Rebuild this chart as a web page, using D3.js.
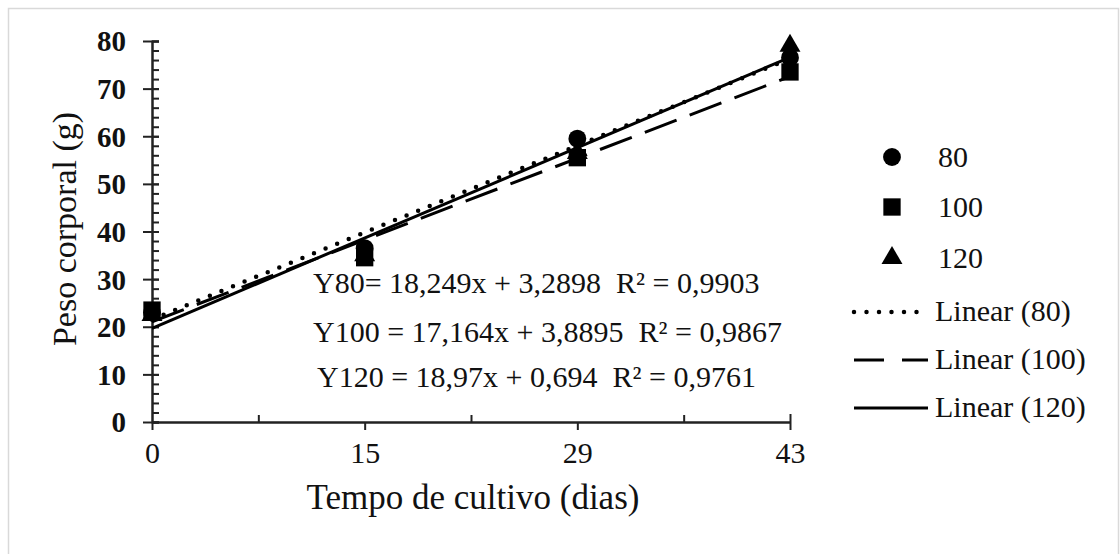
<!DOCTYPE html>
<html>
<head>
<meta charset="utf-8">
<script src="https://cdn.jsdelivr.net/npm/d3@7"></script>
<style>
  body { margin: 0; background: #fff; }
  svg text { font-family: "Liberation Serif", "Times New Roman", serif; fill: #111; white-space: pre; }
</style>
</head>
<body>
<div id="chart"></div>
<script>
// data
const days = ["0", "15", "29", "43"];
const peso80 = [23, 36.5, 59.5, 76.5];
const peso100 = [23.5, 34.5, 55.5, 73.5];
const peso120 = [22.5, 35, 56.5, 79];
const seriesNames = ["80", "100", "120"];
const slopes = [18.249, 17.164, 18.97];
const intercepts = [3.2898, 3.8895, 0.694];
const equations = [
  "Y80= 18,249x + 3,2898  R² = 0,9903",
  "Y100 = 17,164x + 3,8895  R² = 0,9867",
  "Y120 = 18,97x + 0,694  R² = 0,9761"
];
const yTicks = [0, 10, 20, 30, 40, 50, 60, 70, 80];

const drawChart = () => {
  const width = 1120;
  const height = 554;
  const plot = { left: 152, right: 790, top: 41, bottom: 422 };

  const svg = d3.select("#chart")
    .append("svg")
    .attr("width", width)
    .attr("height", height);

  // outer light border
  svg.append("rect")
    .attr("x", 8.5).attr("y", 8.5)
    .attr("width", 1110).attr("height", 570)
    .attr("fill", "none")
    .attr("stroke", "#d9d9d9")
    .attr("stroke-width", 1.5);

  // category index 1..4 (Excel trendline x)
  const x = d3.scaleLinear().domain([1, 4]).range([plot.left, plot.right]);
  const xCat = d3.scalePoint().domain(days).range([plot.left, plot.right]);
  const y = d3.scaleLinear().domain([0, 80]).range([plot.bottom, plot.top]);

  // y axis: minor ticks inside
  svg.append("g")
    .attr("transform", `translate(${plot.left},0)`)
    .call(d3.axisRight(y).tickValues(d3.range(0, 81, 2)).tickSize(7).tickFormat(""))
    .call(g => g.selectAll("path,line").attr("stroke", "#222").attr("stroke-width", 2));

  // y axis: major ticks crossing + labels
  const yAxis = svg.append("g")
    .attr("transform", `translate(${plot.left},0)`)
    .call(d3.axisLeft(y).tickValues(yTicks).tickSize(9).tickPadding(17).tickSizeOuter(0));
  yAxis.selectAll("path,line").attr("stroke", "#222").attr("stroke-width", 2);
  yAxis.selectAll(".tick line").attr("x2", -9).attr("x1", 7);
  yAxis.selectAll("text")
    .attr("font-size", 29).attr("font-weight", "bold")
    .attr("font-family", "Liberation Serif").attr("fill", "#111")
    .attr("dy", "0.34em");

  // x axis: minor ticks pointing up
  svg.append("g")
    .attr("transform", `translate(0,${plot.bottom})`)
    .call(d3.axisTop(x).tickValues([1.5, 2.5, 3.5]).tickSize(7).tickFormat("").tickSizeOuter(0))
    .call(g => g.selectAll("path,line").attr("stroke", "#222").attr("stroke-width", 2));

  const xAxis = svg.append("g")
    .attr("transform", `translate(0,${plot.bottom})`)
    .call(d3.axisBottom(xCat).tickSize(8).tickPadding(12).tickSizeOuter(0));
  xAxis.selectAll("path,line").attr("stroke", "#222").attr("stroke-width", 2);
  xAxis.selectAll(".tick:last-of-type line").attr("y1", -8);
  xAxis.selectAll("text")
    .attr("font-size", 30)
    .attr("font-family", "Liberation Serif").attr("fill", "#111");

  // axis titles
  svg.append("text")
    .attr("x", 473)
    .attr("y", 509)
    .attr("text-anchor", "middle")
    .attr("font-size", 35)
    .text("Tempo de cultivo (dias)");

  svg.append("text")
    .attr("transform", "translate(76,229) rotate(-90)")
    .attr("text-anchor", "middle")
    .attr("font-size", 34)
    .text("Peso corporal (g)");

  // markers
  const circle = d3.symbol().type(d3.symbolCircle).size(250);
  const square = d3.symbol().type(d3.symbolSquare).size(300);
  const triangle = d3.symbol().type(d3.symbolTriangle).size(190);
  const symbols = [circle, square, triangle];
  const allSeries = [peso80, peso100, peso120];

  // drawing order: 120, 80, 100
  [2, 0, 1].forEach(s => {
    svg.append("g")
      .selectAll("path")
      .data(allSeries[s])
      .enter()
      .append("path")
      .attr("d", symbols[s])
      .attr("transform", (d, i) => `translate(${x(i + 1)},${y(d)})`)
      .attr("fill", "#000");
  });

  // trendlines
  const dashes = ["0,12.5", "34,14", null];
  const widths = [4.5, 3, 3];
  const line = d3.line().x(d => x(d[0])).y(d => y(d[1]));
  slopes.forEach((m, s) => {
    const pts = [1, 4].map(v => [v, m * v + intercepts[s]]);
    svg.append("path")
      .attr("d", line(pts))
      .attr("fill", "none")
      .attr("stroke", "#000")
      .attr("stroke-width", widths[s])
      .attr("stroke-linecap", s === 0 ? "round" : "butt")
      .attr("stroke-dasharray", dashes[s]);
  });

  // equations
  const eqX = [313, 313, 317];
  const eqY = [293, 342, 387];
  svg.selectAll(".eq")
    .data(equations)
    .enter()
    .append("text")
    .attr("class", "eq")
    .attr("x", (d, i) => eqX[i])
    .attr("y", (d, i) => eqY[i])
    .attr("font-size", 30)
    .text(d => d);

  // legend
  const legend = svg.append("g");
  const markerRowY = [157, 207, 258];
  seriesNames.forEach((name, s) => {
    legend.append("path")
      .attr("d", symbols[s])
      .attr("transform", `translate(892,${markerRowY[s]})`)
      .attr("fill", "#000");
    legend.append("text")
      .attr("x", 938).attr("y", markerRowY[s] + 10)
      .attr("font-size", 30)
      .text(name);
  });
  const lineRowY = [312, 360, 408];
  seriesNames.forEach((name, s) => {
    legend.append("line")
      .attr("x1", 854).attr("x2", 928)
      .attr("y1", lineRowY[s]).attr("y2", lineRowY[s])
      .attr("stroke", "#000")
      .attr("stroke-width", widths[s])
      .attr("stroke-linecap", s === 0 ? "round" : "butt")
      .attr("stroke-dasharray", s === 1 ? "30,18" : dashes[s]);
    legend.append("text")
      .attr("x", 935).attr("y", lineRowY[s] + 9)
      .attr("font-size", 30)
      .text(`Linear (${name})`);
  });
};

drawChart();
</script>
</body>
</html>
